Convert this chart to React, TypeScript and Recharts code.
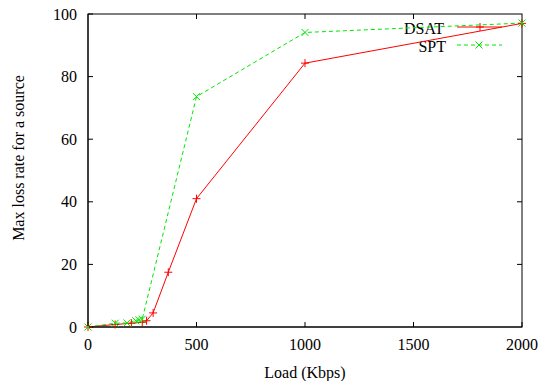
import { LineChart, Line, XAxis, YAxis } from 'recharts';

const dsatLoad = [0, 125, 200, 250, 270, 300, 370, 500, 1000, 2000];
const dsatLoss = [0, 0.8, 1.2, 1.5, 2, 4.5, 17.5, 41, 84.3, 97];
const sptLoad = [0, 125, 180, 220, 235, 250, 500, 1000, 2000];
const sptLoss = [0, 1.2, 1.3, 2, 2.3, 2.5, 73.6, 94.1, 97.1];
const xTicks = [0, 500, 1000, 1500, 2000];
const yTicks = [0, 20, 40, 60, 80, 100];

const dsatData = dsatLoad.map((load, i) => ({ load, loss: dsatLoss[i] }));
const sptData = sptLoad.map((load, i) => ({ load, loss: sptLoss[i] }));

const RED = '#ff0000';
const GREEN = '#00e800';
const FONT = 'Liberation Serif';
const W = 544;
const H = 381;
const MARGIN = { top: 14, right: 22, left: 0, bottom: 0 };
const X_AXIS_H = 54;
const Y_AXIS_W = 88;

// plot box, derived from the chart margins and axis sizes
const PX = MARGIN.left + Y_AXIS_W;
const PY = MARGIN.top;
const PW = W - MARGIN.left - MARGIN.right - Y_AXIS_W;
const PH = H - MARGIN.top - MARGIN.bottom - X_AXIS_H;

const xMax = xTicks[xTicks.length - 1];
const yMax = yTicks[yTicks.length - 1];

// gnuplot mirrors the ticks on the top and right border
const mirrorTicks =
  xTicks
    .slice(1, -1)
    .map((t) => `M${PX + (t / xMax) * PW},${PY} v5`)
    .join(' ') +
  ' ' +
  yTicks
    .slice(1, -1)
    .map((t) => `M${PX + PW},${PY + PH - (t / yMax) * PH} h-5`)
    .join(' ');

const Plus = (props: any) => {
  const { cx, cy } = props;
  if (cx == null || cy == null) return null;
  return (
    <g stroke={RED} strokeWidth={1}>
      <line x1={cx - 4} y1={cy} x2={cx + 4} y2={cy} />
      <line x1={cx} y1={cy - 4} x2={cx} y2={cy + 4} />
    </g>
  );
};

const Cross = (props: any) => {
  const { cx, cy } = props;
  if (cx == null || cy == null) return null;
  return (
    <g stroke={GREEN} strokeWidth={1}>
      <line x1={cx - 3.5} y1={cy - 3.5} x2={cx + 3.5} y2={cy + 3.5} />
      <line x1={cx - 3.5} y1={cy + 3.5} x2={cx + 3.5} y2={cy - 3.5} />
    </g>
  );
};

const tickStyle = { fontFamily: FONT, fontSize: 16, fill: '#000' };

export default function App() {
  return (
    <div style={{ position: 'absolute', left: 0, top: 0, width: W, height: H, background: '#fff' }}>
      <LineChart width={W} height={H} margin={MARGIN}>
        <XAxis
          type="number"
          dataKey="load"
          domain={[0, 2000]}
          ticks={xTicks}
          height={X_AXIS_H}
          tickSize={-5}
          tickMargin={17}
          stroke="#000"
          tick={tickStyle}
          interval={0}
        />
        <YAxis
          type="number"
          domain={[0, 100]}
          ticks={yTicks}
          width={Y_AXIS_W}
          tickSize={-5}
          tickMargin={16}
          stroke="#000"
          tick={tickStyle}
          interval={0}
        />
        <Line
          data={dsatData}
          dataKey="loss"
          stroke={RED}
          strokeWidth={1}
          dot={<Plus />}
          activeDot={false}
          isAnimationActive={false}
        />
        <Line
          data={sptData}
          dataKey="loss"
          stroke={GREEN}
          strokeWidth={1}
          strokeDasharray="4 3"
          dot={<Cross />}
          activeDot={false}
          isAnimationActive={false}
        />
        <rect x={PX} y={PY} width={PW} height={PH} fill="none" stroke="#000" strokeWidth={1} />
        <path d={mirrorTicks} fill="none" stroke="#000" strokeWidth={1} />
        <text x={18} y={158} transform="rotate(-90 18 158)" textAnchor="middle" dominantBaseline="central" fontFamily={FONT} fontSize={16}>
          Max loss rate for a source
        </text>
        <text x={305} y={372} textAnchor="middle" dominantBaseline="central" fontFamily={FONT} fontSize={16}>
          Load (Kbps)
        </text>
        <g fontFamily={FONT} fontSize={16}>
          <text x={444} y={28} textAnchor="end" dominantBaseline="central">DSAT</text>
          <line x1={457} y1={27} x2={502} y2={27} stroke={RED} />
          <Plus cx={480} cy={27} />
          <text x={446} y={46} textAnchor="end" dominantBaseline="central">SPT</text>
          <line x1={457} y1={45} x2={502} y2={45} stroke={GREEN} strokeDasharray="4 3" />
          <Cross cx={479} cy={45} />
        </g>
      </LineChart>
    </div>
  );
}
